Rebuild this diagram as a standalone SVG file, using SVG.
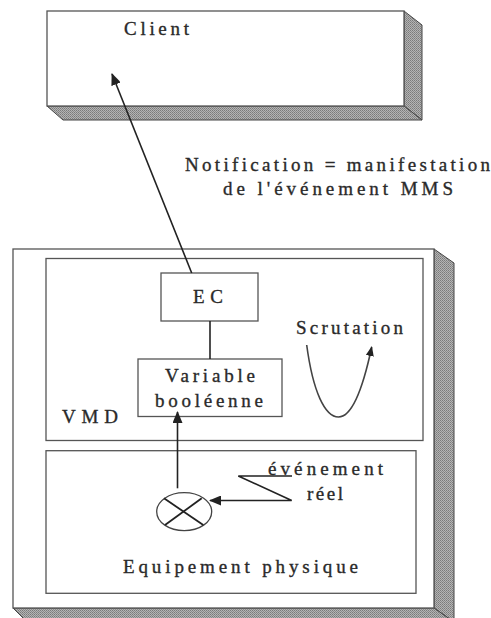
<svg xmlns="http://www.w3.org/2000/svg" width="491" height="618" viewBox="0 0 491 618">
<defs>
<pattern id="dots" width="2" height="2" patternUnits="userSpaceOnUse">
<rect width="2" height="2" fill="#b4b4b4"/>
<rect width="1" height="1" fill="#7a7a7a"/>
<rect x="1" y="1" width="1" height="1" fill="#8a8a8a"/>
</pattern>
<marker id="arr" viewBox="0 0 12 10" refX="11" refY="5" markerWidth="12" markerHeight="10" markerUnits="userSpaceOnUse" orient="auto">
<path d="M0,0 L12,5 L0,10 Z" fill="#222"/>
</marker>
<marker id="arrs" viewBox="0 0 10 8" refX="9" refY="4" markerWidth="10" markerHeight="8" markerUnits="userSpaceOnUse" orient="auto">
<path d="M0,0 L10,4 L0,8 Z" fill="#222"/>
</marker>
</defs>
<style>
text{font-family:"Liberation Serif","Times New Roman",serif;font-size:19px;fill:#2a2a2a;stroke:#2a2a2a;stroke-width:0.35;}
.box{fill:#fff;stroke:#555;stroke-width:1.3;}
.sh{fill:url(#dots);stroke:#444;stroke-width:1;}
.ln{fill:none;stroke:#222;stroke-width:1.6;}
</style>
<rect width="491" height="618" fill="#fff"/>

<g id="client">
<polygon class="sh" points="404,11 422,25 422,120 404,106"/>
<polygon class="sh" points="47,106 404,106 422,120 63,120"/>
<rect class="box" x="47" y="11" width="357" height="95"/>
<text x="124" y="35" textLength="65" lengthAdjust="spacing">Client</text>
</g>

<g id="notification-label">
<text x="185" y="171" textLength="305" lengthAdjust="spacing">Notification = manifestation</text>
<text x="223" y="195" textLength="230" lengthAdjust="spacing">de l'événement MMS</text>
</g>

<g id="vmd-frame">
<polygon class="sh" points="434,249 454,263 454,622 434,608"/>
<polygon class="sh" points="13,608 434,608 454,622 27,622"/>
<rect class="box" x="13" y="249" width="421" height="359"/>
</g>

<g id="vmd">
<rect class="box" x="46" y="258.5" width="377" height="182"/>
<text x="62" y="423" textLength="56" lengthAdjust="spacing">VMD</text>
</g>

<g id="ec">
<rect class="box" x="161" y="273" width="97" height="48"/>
<text x="193" y="303" textLength="30" lengthAdjust="spacing">EC</text>
</g>

<g id="variable">
<rect class="box" x="138" y="359" width="144" height="57.5"/>
<text x="165" y="382" textLength="90" lengthAdjust="spacing">Variable</text>
<text x="155" y="406.5" textLength="108" lengthAdjust="spacing">booléenne</text>
</g>

<g id="scrutation">
<text x="296" y="334" textLength="107" lengthAdjust="spacing">Scrutation</text>
</g>

<g id="equipement">
<rect class="box" x="46" y="450.7" width="370" height="142.6"/>
<text x="123" y="573" textLength="235" lengthAdjust="spacing">Equipement physique</text>
</g>

<g id="capteur">
<ellipse cx="184.2" cy="511.7" rx="27.5" ry="19" fill="#fff" stroke="#444" stroke-width="1.3"/>
<line x1="164" y1="498.3" x2="203.3" y2="525" stroke="#222" stroke-width="1.8"/>
<line x1="201.7" y1="498.3" x2="165" y2="525" stroke="#222" stroke-width="1.8"/>
</g>

<g id="evenement-reel">
<text x="268" y="475" textLength="115" lengthAdjust="spacing">événement</text>
<text x="307" y="500" textLength="36" lengthAdjust="spacing">réel</text>
</g>

<g id="connectors">
<line class="ln" x1="191.7" y1="273" x2="112" y2="74" marker-end="url(#arr)"/>
<line class="ln" x1="210" y1="321" x2="210" y2="359"/>
<line class="ln" x1="177.5" y1="488.3" x2="177.5" y2="412" marker-end="url(#arr)"/>
<polyline class="ln" points="292,476 238.3,476 291.7,500.5 210,500.5" marker-end="url(#arr)"/>
<path d="M306.7,345 C313,392 325,417 338.5,417 C352,417 363,388 371.7,347" fill="none" stroke="#444" stroke-width="1.6" marker-end="url(#arrs)"/>
</g>
</svg>
